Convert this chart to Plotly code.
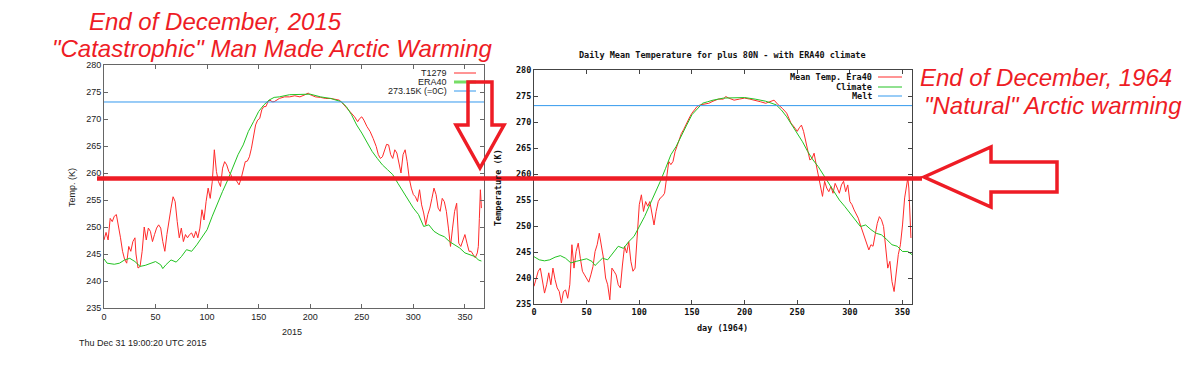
import plotly.graph_objects as go

# The page body adds an 8px margin; the figure is sized so that it fills the
# 1200x366 window exactly, and all layout positions are given in window pixels.
W, H = 1200, 366
OFF = 8
FW, FH = W - 2 * OFF, H - 2 * OFF
def px(x): return (x - OFF) / FW
def py(y): return 1 - (y - OFF) / FH

# ---------------- data: left chart (2015, T1279 vs ERA40) ----------------
days_2015_t1279 = [0,2,4,6,8,10,12,14,16,18,20,22,24,26,28,30,31,33,35,37,39,41,43,45,47,49,51,53,55,57,59,61,63,65,67,69,71,73,75,77,79,81,83,85,87,89,91,93,95,97,99,101,103,105,107,109,111,113,115,117,119,121,123,125,127,129,131,133,135,137,139,141,143,145,147,149,151,153,155,157,159,161,163,165,170,175,180,185,190,195,198,200,205,210,215,220,225,228,230,233,236,240,243,246,248,250,252,255,258,261,264,266,268,270,272,274,276,278,280,282,284,286,288,290,292,294,296,298,300,302,304,306,308,310,312,314,316,318,320,322,324,326,328,330,332,334,336,338,340,342,344,346,348,350,352,354,356,358,360,362,363,364,365,366]
temp_2015_t1279 = [247.6,249,247.6,251.6,251,252,252.3,250.4,248,245.5,244,243.3,246.4,245.5,247.3,248,245,242.4,242.7,245.5,250,247.6,249.8,249.2,247.3,248.6,249.8,250.4,249.8,247.3,245.5,248.6,251.6,253.5,255.6,254.7,251,248,249.8,247.3,248.6,248,248.6,248.9,248,249.2,248,249.8,253.2,251.3,254.7,257.2,255.3,258.4,264.3,260.3,258.4,257.5,260.9,262.1,261.5,260.3,259.7,258.7,259,258.4,257.8,259,260.6,262.1,262.2,263,264.6,266.7,268.9,269.8,270.1,271.7,272.3,272.3,273.2,273.5,273.2,273.2,273.8,274.1,274.1,274.3,274.1,274.5,274.8,274.5,274.1,274,273.8,273.8,273.6,273.5,273.2,272.6,272,271.1,270.4,269.5,270.1,270.4,269.8,268.6,267.7,266.4,264.9,263.4,262.7,263,264,265.3,265.2,263.4,262.7,264.3,263.7,262.1,260,263.4,264.3,262.1,259,257.2,256,255.6,254.7,256.9,254.1,252.6,250.4,252.3,253.5,255.3,257.2,256,253.5,252.9,255.3,254.7,252.9,249.8,246.4,249.8,252.9,254.4,247,246.4,247.6,248.6,247,245.5,245.5,245,244.3,245.2,246.4,251.6,256.9,253.5]

days_2015_era40 = [0,3,10,15,20,25,30,35,40,45,50,55,57,60,65,70,75,80,85,90,95,100,105,110,115,120,125,130,135,140,145,150,155,160,165,170,180,190,200,210,220,230,235,240,245,250,255,260,265,270,275,280,285,290,295,300,305,310,315,320,325,330,335,340,345,350,355,360,363,366]
temp_2015_era40 = [244.1,243.3,243.1,243.3,243.9,244.2,243.6,242.7,242.9,243.3,243.6,243,242.3,243,243.9,243.5,244.5,245.8,245.5,246.7,248,249.5,252,254.4,256.6,258.7,261.2,263.4,265.2,267.7,269.5,271.4,272.6,273.5,274,274.1,274.5,274.6,274.6,274.1,273.8,273.2,272.3,270.8,268.9,267.4,265.8,264,262.7,261.5,260.6,259.7,258.1,256.6,255,253.5,252.3,250.1,250.4,249.2,248.6,248.2,247.3,246.7,246.1,245.2,244.9,244.5,243.9,243.7]

# ---------------- data: right chart (1964, Era40 vs climate) ----------------
days_1964_mean = [0,2,4,6,8,10,12,14,16,18,20,22,24,26,28,30,32,34,36,38,40,42,44,46,48,50,52,54,56,58,60,62,64,66,68,70,72,74,76,78,80,82,84,86,88,90,92,94,96,98,100,102,104,106,108,110,112,114,116,118,120,122,124,126,128,130,132,134,136,138,140,142,144,146,148,150,152,155,158,162,166,170,175,180,182,185,190,195,200,205,210,215,220,225,228,232,236,240,244,248,250,252,254,256,258,260,262,264,266,268,270,272,274,276,278,280,282,284,286,288,290,292,294,296,298,300,302,304,306,308,310,312,314,316,318,320,322,324,326,328,330,332,334,336,338,340,342,344,346,348,350,352,354,355,356,357,358]
temp_1964_mean = [238.4,240,241.3,241.9,239,237.1,238.7,241,238.7,241.9,239.7,238.1,237.4,235.2,237.4,237.7,236.1,238.7,246.4,241.9,245.1,246.7,243.8,241.3,240.6,240,239.2,240.6,242.2,245.1,246.4,248.6,246.4,243.8,240,238.7,235.8,241.9,241.3,240.6,238.7,238.1,242.5,246.1,244.8,247,243.2,241.3,241.9,248.3,254.1,256,252.8,254.7,253.8,254.7,252.2,250.2,252.8,254.7,255.4,255.7,256.3,259.2,262.4,261.8,262.4,264.3,265.6,266.6,267.8,268.5,269.4,270.4,271,271.7,272.3,273,273.3,273.4,273.6,274,274.4,274.4,274.9,274.6,274.2,274.4,274.6,274.4,274.2,273.9,273.6,274,274.2,273.3,272.6,271.7,269.8,268.8,268.2,268.9,269.4,268.2,266.2,264.3,262.7,263,264,261.8,259.8,257.3,255.7,258.6,257.3,256.6,257.6,256.3,258.2,257.3,256.3,257.9,258.6,256.6,257.9,254.7,254.1,253.1,252.2,251.5,250.2,249,247.7,246.4,245.4,246.4,246.1,248.3,250.5,251.8,251.2,249.9,245.8,241.9,243.2,239.3,237.4,240.6,244.5,246.4,250.2,255.4,258.6,259.2,257.3,252.2,247.7]

days_1964_climate = [0,5,10,15,20,25,30,35,40,45,50,55,58,62,65,70,75,80,85,90,95,100,105,110,115,120,125,130,135,140,145,150,155,160,165,170,180,190,200,210,220,230,235,240,245,250,255,260,265,270,275,280,285,290,295,300,305,310,315,320,325,330,335,340,345,350,355,359]
temp_1964_climate = [244.1,243.5,243.3,243.5,244,244.3,243.8,242.9,243.2,243.5,243.7,243.2,242.4,243.2,243.8,243.5,244.8,246.1,245.7,247,248,249.9,251.8,254.1,256.3,258.6,261.1,263.7,265.3,267.5,269.4,271.4,272.6,273.6,273.9,274.2,274.6,274.7,274.7,274.4,274,273.3,272.3,271,269.4,267.8,266.2,264.3,262.7,261.4,259.8,258.2,256.6,255,253.8,252.5,251.2,249.9,250.2,249.3,248.6,248.3,247.4,246.4,246.1,245.1,245.1,244.5]

MELT_K = 273.15
MARK_K = 259.0          # level of the thick red comparison line
X_RANGE_2015 = [0, 368.5]
X_RANGE_1964 = [0, 359]
Y_RANGE = [235, 280]
X_TICKS = [0, 50, 100, 150, 200, 250, 300, 350]
Y_TICKS = [235, 240, 245, 250, 255, 260, 265, 270, 275, 280]

RED = "#ff2a2a"
GREEN = "#22c322"
BLUE = "#3399ee"
ANN_RED = "#ee1c25"

fig = go.Figure()
# left chart
fig.add_trace(go.Scatter(x=days_2015_t1279, y=temp_2015_t1279, mode="lines",
                         line=dict(color=RED, width=1), xaxis="x", yaxis="y"))
fig.add_trace(go.Scatter(x=days_2015_era40, y=temp_2015_era40, mode="lines",
                         line=dict(color=GREEN, width=1), xaxis="x", yaxis="y"))
fig.add_trace(go.Scatter(x=X_RANGE_2015, y=[MELT_K, MELT_K], mode="lines",
                         line=dict(color=BLUE, width=1), xaxis="x", yaxis="y"))
# right chart
fig.add_trace(go.Scatter(x=days_1964_mean, y=temp_1964_mean, mode="lines",
                         line=dict(color=RED, width=1), xaxis="x2", yaxis="y2"))
fig.add_trace(go.Scatter(x=days_1964_climate, y=temp_1964_climate, mode="lines",
                         line=dict(color=GREEN, width=1), xaxis="x2", yaxis="y2"))
fig.add_trace(go.Scatter(x=X_RANGE_1964, y=[MELT_K, MELT_K], mode="lines",
                         line=dict(color=BLUE, width=1), xaxis="x2", yaxis="y2"))

sans = dict(family="Liberation Sans, Arial", size=9, color="#222")
mono = dict(family="DejaVu Sans Mono", size=8.5, color="#111", weight="bold")

def ax(domain, rng, ticks, font, anchor, color):
    return dict(domain=domain, range=rng, tickvals=ticks, ticks="inside", ticklen=4,
                tickcolor=color, mirror="allticks", showline=True, linecolor=color,
                linewidth=1, showgrid=False, zeroline=False, tickfont=font,
                anchor=anchor, fixedrange=True, automargin=False)

fig.update_layout(
    width=FW, height=FH, margin=dict(l=0, r=0, t=0, b=0, autoexpand=False),
    paper_bgcolor="white", plot_bgcolor="white", showlegend=False,
    xaxis=ax([px(104), px(484)], X_RANGE_2015, X_TICKS, sans, "y", "#666"),
    yaxis=ax([py(308), py(65)], Y_RANGE, Y_TICKS, sans, "x", "#666"),
    xaxis2=ax([px(534), px(912)], X_RANGE_1964, X_TICKS, mono, "y2", "#444"),
    yaxis2=ax([py(304), py(70)], Y_RANGE, Y_TICKS, mono, "x2", "#444"),
)

ann = []
def text(x, y, t, font, xanchor="center", angle=0):
    ann.append(dict(x=px(x), y=py(y), xref="paper", yref="paper", text=t,
                    showarrow=False, font=font, xanchor=xanchor, yanchor="middle",
                    textangle=angle))

# left chart texts
text(292, 332, "2015", sans)
text(72, 188, "Temp. (K)", sans, angle=-90)
text(77, 343, "Thu Dec 31 19:00:20 UTC 2015", sans, xanchor="left")
text(449, 73, "T1279", sans, xanchor="right")
text(449, 82, "ERA40", sans, xanchor="right")
text(449, 91, "273.15K (=0C)", sans, xanchor="right")
# right chart texts
text(722, 55, "Daily Mean Temperature for plus 80N - with ERA40 climate", mono)
text(722, 328, "day (1964)", mono)
text(498, 188, "Temperature (K)", mono, angle=-90)
text(874, 77, "Mean Temp. Era40", mono, xanchor="right")
text(874, 87, "Climate", mono, xanchor="right")
text(874, 96, "Melt", mono, xanchor="right")

big = dict(family="Liberation Sans, Arial", size=24, color=ANN_RED, style="italic")
text(215, 21, "End of December, 2015", big)
text(272, 48.5, "\"Catastrophic\" Man Made Arctic Warming", big)
text(1046, 78, "End of December, 1964", big)
text(1053, 105, "\"Natural\" Arctic warming", big)

fig.update_layout(annotations=ann)

shapes = []
def seg(x0, y0, x1, y1, color, width):
    shapes.append(dict(type="line", xref="paper", yref="paper", x0=px(x0), y0=py(y0),
                       x1=px(x1), y1=py(y1), line=dict(color=color, width=width)))

# legend samples
seg(454, 73, 476, 73, RED, 1)
seg(454, 82, 476, 82, "#77dd66", 3)
seg(454, 91, 476, 91, BLUE, 1)
seg(878, 77, 902, 77, RED, 1)
seg(878, 87, 902, 87, GREEN, 1)
seg(878, 96, 902, 96, BLUE, 1)

# thick red comparison line (at MARK_K on the left chart's scale)
shapes.append(dict(type="line", xref="paper", yref="y", x0=px(97), x1=px(922),
                   y0=MARK_K, y1=MARK_K, line=dict(color=ANN_RED, width=4.5)))

def path(points):
    d = "M " + " L ".join(f"{px(x):.5f},{py(y):.5f}" for x, y in points) + " Z"
    shapes.append(dict(type="path", xref="paper", yref="paper", path=d,
                       line=dict(color=ANN_RED, width=3.5), fillcolor="rgba(0,0,0,0)"))

# down arrow (left chart)
path([(468, 82), (492, 82), (492, 125), (504, 125), (480, 168), (456, 125), (468, 125)])
# left-pointing arrow (right side)
path([(924, 177), (991, 147), (991, 162), (1057, 162), (1057, 192), (991, 192), (991, 207)])

fig.update_layout(shapes=shapes)
fig.write_html("out.html")
